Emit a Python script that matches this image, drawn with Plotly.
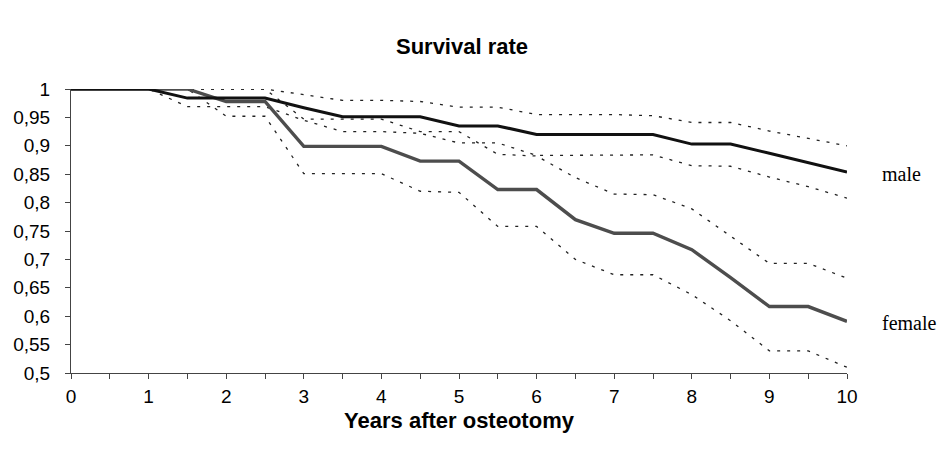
import plotly.graph_objects as go

years = [0, 0.5, 1, 1.5, 2, 2.5, 3, 3.5, 4, 4.5, 5, 5.5, 6, 6.5, 7, 7.5, 8, 8.5, 9, 9.5, 10]

male = [1.0, 1.0, 1.0, 0.984, 0.984, 0.984, 0.967, 0.951, 0.951, 0.951, 0.935, 0.935,
        0.920, 0.920, 0.920, 0.920, 0.903, 0.903, 0.887, 0.870, 0.854]
male_upper = [1.0, 1.0, 1.0, 1.0, 1.0, 1.0, 0.990, 0.980, 0.980, 0.978, 0.968, 0.968,
              0.955, 0.955, 0.955, 0.953, 0.941, 0.941, 0.926, 0.913, 0.900]
male_lower = [1.0, 1.0, 1.0, 0.969, 0.969, 0.969, 0.945, 0.925, 0.925, 0.922, 0.905, 0.905,
              0.883, 0.883, 0.883, 0.884, 0.865, 0.864, 0.845, 0.828, 0.808]

female = [1.0, 1.0, 1.0, 1.0, 0.978, 0.978, 0.899, 0.899, 0.899, 0.873, 0.873, 0.823,
          0.823, 0.770, 0.746, 0.746, 0.717, 0.668, 0.617, 0.617, 0.591]
female_upper = [1.0, 1.0, 1.0, 1.0, 1.0, 1.0, 0.947, 0.947, 0.947, 0.925, 0.925, 0.885,
                0.882, 0.844, 0.815, 0.814, 0.789, 0.741, 0.693, 0.693, 0.667]
female_lower = [1.0, 1.0, 1.0, 1.0, 0.952, 0.952, 0.851, 0.851, 0.851, 0.820, 0.818, 0.758,
                0.758, 0.700, 0.673, 0.673, 0.638, 0.592, 0.539, 0.539, 0.510]

x_ticks = [i * 0.5 for i in range(21)]
x_labels = [str(int(v)) if v == int(v) else "" for v in x_ticks]
y_ticks = [0.5 + i * 0.05 for i in range(11)]
y_labels = ["0,5", "0,55", "0,6", "0,65", "0,7", "0,75", "0,8", "0,85", "0,9", "0,95", "1"]

# page body has an 8px margin; keep the figure inside the 946x454 window
W, H = 930, 438
OFF = 8

fig = go.Figure()

dot = dict(color="#222222", width=1.3, dash="3px,7px")
for ci in [male_upper, male_lower, female_upper, female_lower]:
    fig.add_trace(go.Scatter(x=years, y=ci, mode="lines", line=dot, hoverinfo="skip"))

fig.add_trace(go.Scatter(x=years, y=female, mode="lines",
                         line=dict(color="#4d4d4d", width=3.4)))
fig.add_trace(go.Scatter(x=years, y=male, mode="lines",
                         line=dict(color="#111111", width=3)))

fig.update_layout(
    width=W, height=H,
    margin=dict(l=71 - OFF, r=W - (847 - OFF), t=89 - OFF, b=H - (373 - OFF)),
    paper_bgcolor="white", plot_bgcolor="white",
    showlegend=False,
    title=dict(text="<b>Survival rate</b>", x=(462 - OFF) / W, xanchor="center",
               y=1 - (46 - OFF) / H, yanchor="middle",
               font=dict(family="Liberation Sans, Arial", size=22, color="black")),
    font=dict(family="Liberation Sans, Arial", size=18, color="black"),
)

fig.update_xaxes(
    range=[0, 10], tickvals=x_ticks, ticktext=x_labels, automargin=False,
    ticks="outside", ticklen=5, tickcolor="#444444", tickwidth=1,
    showline=True, linecolor="#444444", linewidth=1,
    showgrid=False, zeroline=False,
    tickfont=dict(size=19), ticklabelstandoff=1,
    title=dict(text="<b>Years after osteotomy</b>", font=dict(size=22), standoff=6),
)
fig.update_yaxes(
    range=[0.5, 1], tickvals=y_ticks, ticktext=y_labels, automargin=False,
    ticks="outside", ticklen=5, tickcolor="#444444", tickwidth=1,
    showline=True, linecolor="#444444", linewidth=1,
    showgrid=False, zeroline=False,
    tickfont=dict(size=19), ticklabelstandoff=11,
)

fig.add_annotation(text="male", x=10, y=0.854, xref="x", yref="y",
                   xshift=33, yshift=-2, xanchor="left", yanchor="middle", showarrow=False,
                   font=dict(family="Liberation Serif, Times New Roman", size=20, color="black"))
fig.add_annotation(text="female", x=10, y=0.591, xref="x", yref="y",
                   xshift=33, yshift=-2, xanchor="left", yanchor="middle", showarrow=False,
                   font=dict(family="Liberation Serif, Times New Roman", size=20, color="black"))

fig.write_html("out.html")
